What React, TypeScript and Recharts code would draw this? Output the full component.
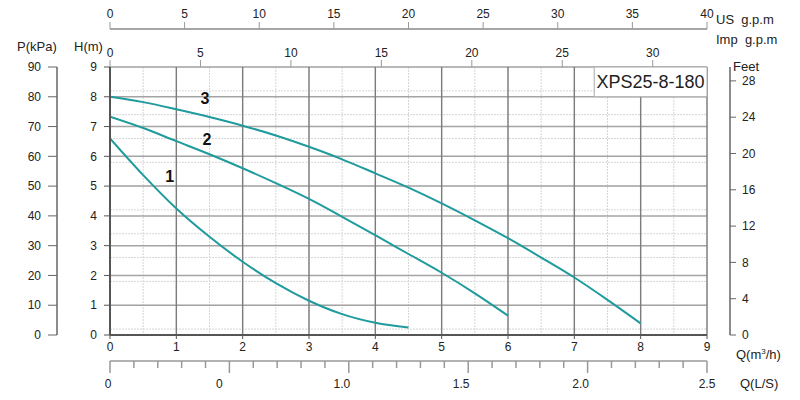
import React from "react";
import {
  ComposedChart,
  Line,
  XAxis,
  YAxis,
  CartesianGrid,
  ReferenceArea,
  ReferenceDot,
} from "recharts";

// pump curves, Q in m³/h, H in m
const flows1 = [0, 0.5, 1, 1.5, 2, 2.5, 3, 3.5, 4, 4.5];
const head1 = [6.6, 5.37, 4.25, 3.3, 2.46, 1.74, 1.15, 0.7, 0.41, 0.25];
const flows2 = [0, 0.5, 1, 1.5, 2, 2.5, 3, 3.5, 4, 4.5, 5, 5.5, 6];
const head2 = [7.33, 6.95, 6.51, 6.07, 5.6, 5.1, 4.57, 3.97, 3.35, 2.72, 2.09, 1.4, 0.65];
const flows3 = [0, 0.5, 1, 1.5, 2, 2.5, 3, 3.5, 4, 4.5, 5, 5.5, 6, 6.5, 7, 7.5, 8];
const head3 = [8.0, 7.82, 7.58, 7.32, 7.03, 6.7, 6.32, 5.9, 5.43, 4.95, 4.42, 3.85, 3.25, 2.6, 1.93, 1.18, 0.39];

// axis ticks
const qTicks = [0, 1, 2, 3, 4, 5, 6, 7, 8, 9];
const hTicks = [0, 1, 2, 3, 4, 5, 6, 7, 8, 9];
const pTicks = [0, 10, 20, 30, 40, 50, 60, 70, 80, 90];
const feetTicks = [0, 4, 8, 12, 16, 20, 24, 28];
const usTicks = [0, 5, 10, 15, 20, 25, 30, 35, 40];
const impTicks = [0, 5, 10, 15, 20, 25, 30];
const lsTicks = [
  0, 0.1, 0.2, 0.3, 0.4, 0.5, 0.6, 0.7, 0.8, 0.9, 1.0, 1.1, 1.2, 1.3, 1.4, 1.5,
  1.6, 1.7, 1.8, 1.9, 2.0, 2.1, 2.2, 2.3, 2.4, 2.5,
];
const lsLabelValues = [0, 0.5, 1.0, 1.5, 2.0, 2.5];
const lsLabelText = ["0", "0", "1.0", "1.5", "2.0", "2.5"];

const model = "XPS25-8-180";
const curveNames = ["1", "2", "3"];

const range = (a: number, b: number, step: number) => {
  const out: number[] = [];
  for (let i = 0; a + i * step <= b + 1e-9; i++) out.push(+(a + i * step).toFixed(3));
  return out;
};
const minorQ = range(0, 9, 0.25);
const minorH = range(0, 9, 0.2);

const toPoints = (q: number[], h: number[]) => q.map((v, i) => ({ q: v, h: h[i] }));
const curve1 = toPoints(flows1, head1);
const curve2 = toPoints(flows2, head2);
const curve3 = toPoints(flows3, head3);

const TEAL = "#1f9b9d";
const TXT = "#222";
const FONT = "'Liberation Sans', Arial, sans-serif";
const tickFont = { fill: TXT, fontSize: 12, fontFamily: FONT };

// axis ids are ordered alphabetically by recharts: "a_" sits next to the plot
const X_Q = "a_q";
const X_LS = "b_ls";
const X_IMP = "a_imp";
const X_US = "b_us";
const Y_H = "a_h";
const Y_P = "b_p";
const Y_SP = "a_sp";
const Y_FT = "b_ft";

function LsTick(props: any) {
  const { x, y, payload } = props;
  const v = payload.value;
  const idx = lsLabelValues.findIndex((l) => Math.abs(l - v) < 1e-6);
  const major = idx >= 0;
  const dx = idx === 0 ? -2 : idx === 1 ? -10 : idx === 5 ? 0 : -7;
  return (
    <g>
      <line x1={x} x2={x} y1={y} y2={y + (major ? 12 : 7)} stroke="#999" strokeWidth={1.5} />
      {major && (
        <text x={x + dx} y={y + 27} textAnchor="middle" {...tickFont}>
          {lsLabelText[idx]}
        </text>
      )}
    </g>
  );
}

const lbl = (left: number, top: number, text: React.ReactNode, extra: any = {}) => (
  <div
    style={{
      position: "absolute",
      left,
      top,
      fontSize: 13,
      lineHeight: "14px",
      color: TXT,
      fontFamily: FONT,
      whiteSpace: "pre",
      ...extra,
    }}
  >
    {text}
  </div>
);

const numLabel = (value: string) => ({
  value,
  position: "center" as const,
  fill: "#111",
  fontSize: 16,
  fontWeight: 700,
  fontFamily: FONT,
});

export default function App() {
  return (
    <div
      style={{
        position: "absolute",
        left: 0,
        top: 0,
        width: 800,
        height: 400,
        background: "#fff",
        fontFamily: FONT,
      }}
    >
      <ComposedChart width={800} height={400} data={curve3} margin={{ top: 0, right: 0, bottom: 0, left: 0 }}>
        {/* minor grid */}
        <CartesianGrid
          xAxisId={X_Q}
          yAxisId={Y_H}
          verticalValues={minorQ}
          horizontalValues={minorH}
          stroke="#d6d6d6"
          strokeDasharray="2 1"
        />
        {/* major grid: horizontals lighter, verticals darker */}
        <CartesianGrid
          xAxisId={X_Q}
          yAxisId={Y_H}
          vertical={false}
          horizontalValues={hTicks}
          stroke="#a4a4a4"
          strokeWidth={1.5}
        />
        <CartesianGrid
          xAxisId={X_Q}
          yAxisId={Y_H}
          horizontal={false}
          verticalValues={qTicks}
          stroke="#7c7c7c"
          strokeWidth={1.4}
        />

        <XAxis
          xAxisId={X_Q}
          type="number"
          dataKey="q"
          domain={[0, 9]}
          ticks={qTicks}
          allowDataOverflow
          height={26}
          axisLine={{ stroke: "#555", strokeWidth: 2 }}
          tickLine={{ stroke: "#555" }}
          tickSize={4}
          tickMargin={3}
          tick={tickFont}
        />
        <XAxis
          xAxisId={X_LS}
          type="number"
          dataKey="q"
          domain={[0, 2.5]}
          ticks={lsTicks}
          allowDataOverflow
          interval={0}
          height={39}
          axisLine={{ stroke: "#999", strokeWidth: 1.5 }}
          tickLine={false}
          tickSize={0}
          tickMargin={0}
          tick={<LsTick />}
        />
        <XAxis
          xAxisId={X_IMP}
          orientation="top"
          type="number"
          dataKey="q"
          domain={[0, 33]}
          ticks={impTicks}
          allowDataOverflow
          interval={0}
          height={38}
          axisLine={false}
          tickLine={{ stroke: "#999" }}
          tickSize={7}
          tickMargin={3}
          tick={tickFont}
        />
        <XAxis
          xAxisId={X_US}
          orientation="top"
          type="number"
          dataKey="q"
          domain={[0, 40]}
          ticks={usTicks}
          allowDataOverflow
          interval={0}
          height={29}
          axisLine={{ stroke: "#888", strokeWidth: 1.5 }}
          tickLine={{ stroke: "#999" }}
          tickSize={7}
          tickMargin={4}
          tick={tickFont}
        />

        <YAxis
          yAxisId={Y_H}
          type="number"
          domain={[0, 9]}
          ticks={hTicks}
          allowDataOverflow
          width={53}
          axisLine={{ stroke: "#555", strokeWidth: 2 }}
          tickLine={{ stroke: "#555" }}
          tickSize={6}
          tickMargin={7}
          tick={tickFont}
        />
        <YAxis
          yAxisId={Y_P}
          type="number"
          domain={[0, 90]}
          ticks={pTicks}
          allowDataOverflow
          width={57}
          axisLine={{ stroke: "#666", strokeWidth: 1.5 }}
          tickLine={{ stroke: "#666" }}
          tickSize={9}
          tickMargin={7}
          tick={tickFont}
        />
        <YAxis
          yAxisId={Y_SP}
          orientation="right"
          width={23}
          axisLine={false}
          tickLine={false}
          tick={false}
        />
        <YAxis
          yAxisId={Y_FT}
          orientation="right"
          type="number"
          domain={[0, 29.53]}
          ticks={feetTicks}
          allowDataOverflow
          width={70}
          axisLine={{ stroke: "#666", strokeWidth: 1.5 }}
          tickLine={{ stroke: "#666" }}
          tickSize={6}
          tickMargin={6}
          tick={tickFont}
        />

        <ReferenceArea
          xAxisId={X_Q}
          yAxisId={Y_H}
          x1={7.3}
          x2={9}
          y1={8}
          y2={9}
          fill="#fff"
          fillOpacity={1}
          stroke="#aaa"
          label={{ value: model, position: "center", fill: TXT, fontSize: 18, fontFamily: FONT }}
        />

        <Line xAxisId={X_Q} yAxisId={Y_H} data={curve1} dataKey="h" type="monotone" stroke={TEAL} strokeWidth={2} dot={false} isAnimationActive={false} />
        <Line xAxisId={X_Q} yAxisId={Y_H} data={curve2} dataKey="h" type="monotone" stroke={TEAL} strokeWidth={2} dot={false} isAnimationActive={false} />
        <Line xAxisId={X_Q} yAxisId={Y_H} data={curve3} dataKey="h" type="monotone" stroke={TEAL} strokeWidth={2} dot={false} isAnimationActive={false} />

        <ReferenceDot xAxisId={X_Q} yAxisId={Y_H} x={0.9} y={5.34} r={0} fill="none" stroke="none" label={numLabel(curveNames[0])} />
        <ReferenceDot xAxisId={X_Q} yAxisId={Y_H} x={1.46} y={6.58} r={0} fill="none" stroke="none" label={numLabel(curveNames[1])} />
        <ReferenceDot xAxisId={X_Q} yAxisId={Y_H} x={1.43} y={7.96} r={0} fill="none" stroke="none" label={numLabel(curveNames[2])} />
      </ComposedChart>

      {lbl(17, 40, "P(kPa)")}
      {lbl(74, 40, "H(m)")}
      {lbl(716, 13, "US  g.p.m")}
      {lbl(716, 33, "Imp  g.p.m")}
      {lbl(733, 60, "Feet")}
      {lbl(736, 345, <span>Q(m<sup style={{ fontSize: 8 }}>3</sup>/h)</span>)}
      {lbl(740, 377, "Q(L/S)")}
    </div>
  );
}
